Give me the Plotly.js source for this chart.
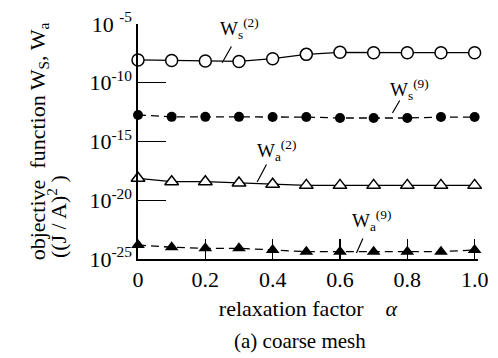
<!DOCTYPE html>
<html>
<head>
<meta charset="utf-8">
<script src="https://cdn.plot.ly/plotly-3.0.1.min.js"></script>
<style>html,body{margin:0;padding:0;background:#fff;}</style>
</head>
<body>
<div id="chart" style="width:498px;height:358px;"></div>
<script>
// relaxation factor alpha
const alpha = [0, 0.1, 0.2, 0.3, 0.4, 0.5, 0.6, 0.7, 0.8, 0.9, 1.0];
// objective functions
const ws2 = [8.7e-9, 7.8e-9, 7.1e-9, 6.5e-9, 1.12e-8, 2.6e-8, 3.9e-8, 3.6e-8, 3.6e-8, 3.6e-8, 3.6e-8];
const ws9 = [1.8e-13, 1.25e-13, 1.25e-13, 1.25e-13, 1.2e-13, 1.2e-13, 1.0e-13, 1.0e-13, 1.0e-13, 1.2e-13, 1.2e-13];
const wa2 = [7.4e-19, 3.8e-19, 3.8e-19, 2.95e-19, 2.3e-19, 1.85e-19, 1.85e-19, 1.85e-19, 1.85e-19, 1.85e-19, 1.85e-19];
const wa9 = [1.55e-24, 1.0e-24, 8.1e-25, 8.1e-25, 5.9e-25, 4.2e-25, 4.2e-25, 4.2e-25, 4.2e-25, 4.2e-25, 5.9e-25];

const xTickVals = [0, 0.2, 0.4, 0.6, 0.8, 1.0];
const xTickText = ['0', '0.2', '0.4', '0.6', '0.8', '1.0'];
const yTickVals = [1e-25, 1e-20, 1e-15, 1e-10, 1e-5];
const yTickText = ['10<sup>-25</sup>', '10<sup>-20</sup>', '10<sup>-15</sup>', '10<sup>-10</sup>', '10 <sup>-5</sup>'];

const seriesLabels = ['W<sub>s</sub><sup>(2)</sup>', 'W<sub>s</sub><sup>(9)</sup>', 'W<sub>a</sub><sup>(2)</sup>', 'W<sub>a</sub><sup>(9)</sup>'];

const FONT = '"Liberation Serif", "Times New Roman", serif';
const dashPat = '8px,5px';

const traces = [
  {x: alpha, y: ws2, mode: 'lines+markers', cliponaxis: false,
   line: {color: '#000', width: 1.3},
   marker: {symbol: 'circle', size: 12, color: '#fff', line: {color: '#000', width: 1.5}}},
  {x: alpha, y: ws9, mode: 'lines+markers', cliponaxis: false,
   line: {color: '#000', width: 1.3, dash: dashPat},
   marker: {symbol: 'circle', size: 10, color: '#000'}},
  {x: alpha, y: wa2, mode: 'lines+markers', cliponaxis: false,
   line: {color: '#000', width: 1.3},
   marker: {symbol: 'triangle-up', size: 12, color: '#fff', line: {color: '#000', width: 1.5}}},
  {x: alpha, y: wa9, mode: 'lines+markers', cliponaxis: false,
   line: {color: '#000', width: 1.3, dash: dashPat},
   marker: {symbol: 'triangle-up', size: 12, color: '#000'}}
];

// label positions (x in data, y in log10 units), leader lines head/tail
const labelPos = [
  {x: 0.238, y: -6.70, hx: 0.25, hy: -8.3, tx: 0.28, ty: -6.79},
  {x: 0.744, y: -11.89, hx: 0.756, hy: -12.57, tx: 0.78, ty: -11.38},
  {x: 0.348, y: -17.09, hx: 0.354, hy: -18.45, tx: 0.384, ty: -16.83},
  {x: 0.631, y: -23.04, hx: 0.649, hy: -24.49, tx: 0.67, ty: -23.13}
];

const annotations = [];
labelPos.forEach((p, i) => {
  annotations.push({x: p.x, y: p.y, xref: 'x', yref: 'y', text: seriesLabels[i],
    showarrow: false, xanchor: 'left', yanchor: 'bottom',
    font: {family: FONT, size: 19, color: '#000'}});
  annotations.push({x: p.hx, y: p.hy, xref: 'x', yref: 'y', ax: p.tx, ay: p.ty,
    axref: 'x', ayref: 'y', text: '', showarrow: true, arrowhead: 0,
    arrowwidth: 1.2, arrowcolor: '#000', standoff: 0, startstandoff: 0});
});
annotations.push({xref: 'paper', yref: 'paper', x: -0.24, y: 0.18,
  text: '((J / A)<sup>2</sup> )', textangle: -90, showarrow: false,
  xanchor: 'center', yanchor: 'middle', font: {family: FONT, size: 22, color: '#000'}});
annotations.push({xref: 'paper', yref: 'paper', x: 0.476, y: -0.349,
  text: '(a) coarse mesh', showarrow: false,
  xanchor: 'center', yanchor: 'middle', font: {family: FONT, size: 21, color: '#000'}});

const layout = {
  width: 498, height: 358,
  margin: {l: 138, r: 20, t: 24, b: 99},
  paper_bgcolor: '#fff', plot_bgcolor: '#fff',
  showlegend: false,
  font: {family: FONT, size: 21, color: '#000'},
  xaxis: {
    range: [0, 1.01], showgrid: false, zeroline: false,
    showline: true, linecolor: '#000', linewidth: 1.6,
    ticks: 'inside', ticklen: 20, tickwidth: 1.4, tickcolor: '#000',
    tickvals: xTickVals, ticktext: xTickText,
    tickfont: {family: FONT, size: 22, color: '#000'},
    title: {text: 'relaxation factor\u00A0\u00A0\u00A0\u00A0<i>α</i>', standoff: 9,
      font: {family: FONT, size: 22, color: '#000'}}
  },
  yaxis: {
    type: 'log', range: [-25, -5], showgrid: false, zeroline: false,
    showline: true, linecolor: '#000', linewidth: 1.6,
    ticks: 'inside', ticklen: 28, tickwidth: 1.4, tickcolor: '#000',
    tickvals: yTickVals, ticktext: yTickText,
    tickfont: {family: FONT, size: 22, color: '#000'},
    title: {text: 'objective\u00A0\u00A0function W<sub>S</sub>, W<sub>a</sub>', standoff: 38,
      font: {family: FONT, size: 22, color: '#000'}}
  },
  annotations: annotations
};

Plotly.newPlot('chart', traces, layout, {staticPlot: true, displayModeBar: false});
</script>
</body>
</html>
